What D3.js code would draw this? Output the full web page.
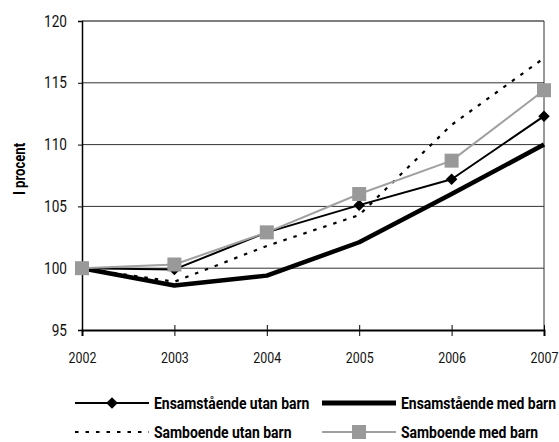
<!DOCTYPE html>
<html>
  <head>
    <meta charset="utf-8">
    <title>I procent</title>
    <script src="https://cdn.jsdelivr.net/npm/d3@7/dist/d3.min.js"></script>
    <style>
      html, body { margin: 0; padding: 0; background: #fff; overflow: hidden; }
      svg { display: block; }
      text { font-family: "Liberation Sans Narrow", Roboto, sans-serif; }
    </style>
  </head>
  <body>
    <svg width="559" height="442" id="mainsvg"></svg>
    <script>
        const years = ['2002', '2003', '2004', '2005', '2006', '2007'];
        const yTicks = [95, 100, 105, 110, 115, 120];
        const ensUtan = [100, 99.9, 102.9, 105.1, 107.2, 112.3];
        const ensMed = [100, 98.6, 99.4, 102.1, 106.0, 110.0];
        const samUtan = [100, 98.9, 101.8, 104.3, 111.6, 117.0];
        const samMed = [100, 100.3, 102.9, 106.0, 108.7, 114.4];
        const seriesNames = ['Ensamstående utan barn', 'Ensamstående med barn', 'Samboende utan barn', 'Samboende med barn'];

        const series = [
          {name: seriesNames[0], values: ensUtan, color: '#000', width: 2, dash: null, marker: 'diamond'},
          {name: seriesNames[1], values: ensMed, color: '#000', width: 4.5, dash: null, marker: null},
          {name: seriesNames[2], values: samUtan, color: '#000', width: 2.2, dash: '3.5,7', marker: null},
          {name: seriesNames[3], values: samMed, color: '#a0a0a0', width: 2, dash: null, marker: 'square'}
        ];

        const svg = d3.select('#mainsvg');
        const margin = {top: 21, right: 15, bottom: 112, left: 82};
        const width = +svg.attr('width');
        const height = +svg.attr('height');
        const innerWidth = width - margin.left - margin.right;
        const innerHeight = height - margin.top - margin.bottom;

        // squeeze text horizontally (condensed look) by a factor
        function condense(sel, factor) {
          sel.each(function() {
            const w = this.getComputedTextLength();
            d3.select(this).attr('textLength', w * factor).attr('lengthAdjust', 'spacingAndGlyphs');
          });
        }

        const xScale = d3.scalePoint().domain(years).range([0, innerWidth]);
        const yScale = d3.scaleLinear().domain([95, 120]).range([innerHeight, 0]);

        const g = svg.append('g').attr('transform', `translate(${margin.left}, ${margin.top})`);

        // gridlines
        g.selectAll('.grid').data(yTicks.filter(d => d > 95)).join('line')
          .attr('x1', 0).attr('x2', innerWidth)
          .attr('y1', d => yScale(d)).attr('y2', d => yScale(d))
          .attr('stroke', d => d === 120 ? '#000' : '#333').attr('stroke-width', 1);
        // right border
        g.append('line').attr('x1', innerWidth).attr('x2', innerWidth)
          .attr('y1', 0).attr('y2', innerHeight).attr('stroke', '#333');

        // y axis
        const yAxis = d3.axisLeft(yScale).tickValues(yTicks).tickSize(4).tickPadding(11);
        const yg = g.append('g').call(yAxis);
        yg.select('.domain').attr('stroke-width', 1.5);
        yg.selectAll('text').attr('font-size', 16).attr('fill', '#111');
        condense(yg.selectAll('text'), 0.85);

        // x axis
        const xAxis = d3.axisBottom(xScale).tickSize(6).tickPadding(16);
        const xg = g.append('g').attr('transform', `translate(0, ${innerHeight})`).call(xAxis);
        xg.select('.domain').attr('stroke-width', 2);
        xg.selectAll('.tick line').attr('y1', -5);
        xg.selectAll('.tick').filter(d => d === '2002').select('line').remove();
        xg.selectAll('text').attr('font-size', 15.5).attr('fill', '#111');
        condense(xg.selectAll('text'), 0.8);

        // y label
        const ylab = svg.append('text').text('I procent')
          .attr('transform', `translate(25, 169) rotate(-90)`)
          .attr('text-anchor', 'middle').attr('font-size', 16).attr('font-weight', 'bold');
        condense(ylab, 0.82);

        const line = d3.line().x((d, i) => xScale(years[i])).y(d => yScale(d));

        const drawOrder = [1, 2, 0, 3];
        drawOrder.forEach(k => {
          const s = series[k];
          g.append('path').datum(s.values)
            .attr('d', line).attr('fill', 'none')
            .attr('stroke', s.color).attr('stroke-width', s.width)
            .attr('stroke-dasharray', s.dash)
            .attr('stroke-linejoin', 'round');
          if (s.marker === 'diamond') {
            g.selectAll(null).data(s.values).join('path')
              .attr('d', d3.symbol(d3.symbolDiamond2, 85)())
              .attr('transform', (d, i) => `translate(${xScale(years[i])}, ${yScale(d)})`)
              .attr('fill', '#000');
          } else if (s.marker === 'square') {
            g.selectAll(null).data(s.values).join('rect')
              .attr('x', (d, i) => xScale(years[i]) - 7).attr('y', d => yScale(d) - 7)
              .attr('width', 14).attr('height', 14).attr('fill', '#999');
          }
        });

        // legend
        const legendPos = [[75, 403], [322, 403], [75, 432], [322, 432]];
        series.forEach((s, k) => {
          const [lx, ly] = legendPos[k];
          const lg = svg.append('g').attr('transform', `translate(${lx}, ${ly})`);
          lg.append('line').attr('x1', 0).attr('x2', 74).attr('y1', 0).attr('y2', 0)
            .attr('stroke', s.color).attr('stroke-width', k === 1 ? 5 : s.width)
            .attr('stroke-dasharray', s.dash);
          if (s.marker === 'diamond') {
            lg.append('path').attr('d', d3.symbol(d3.symbolDiamond2, 85)())
              .attr('transform', 'translate(37, 0)').attr('fill', '#000');
          } else if (s.marker === 'square') {
            lg.append('rect').attr('x', 30).attr('y', -7).attr('width', 14).attr('height', 14).attr('fill', '#999');
          }
          const t = lg.append('text').text(s.name).attr('x', 79).attr('y', 6)
            .attr('font-size', 17).attr('font-weight', 'bold');
          condense(t, 0.82);
        });
    </script>
  </body>
</html>
